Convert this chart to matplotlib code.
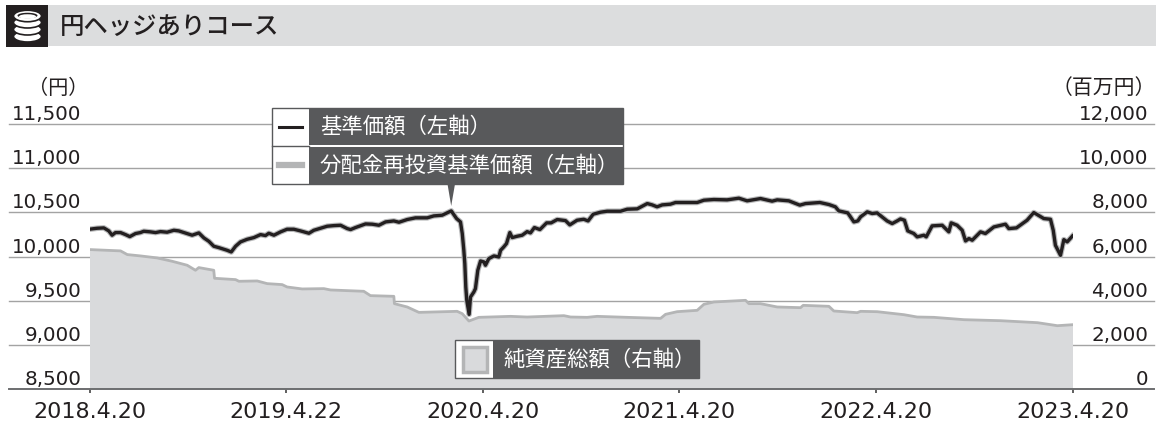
import matplotlib
matplotlib.use("Agg")
import matplotlib.pyplot as plt
from matplotlib.patches import Rectangle, Polygon, Ellipse

CJK = ['Noto Sans CJK JP', 'DejaVu Sans']
plt.rcParams['font.family'] = CJK

title = '円ヘッジありコース'
x_labels = ['2018.4.20', '2019.4.22', '2020.4.20', '2021.4.20', '2022.4.20', '2023.4.20']
x_ticks = [0, 1, 2, 3, 4, 5]
left_ticks = [8500, 9000, 9500, 10000, 10500, 11000, 11500]
right_ticks = [0, 2000, 4000, 6000, 8000, 10000, 12000]

# elapsed years from the first date, and fund price in yen
nav_t = [0.0, .039, .073, .098, .115, .132, .158, .183, .205, .234, .259, .276, .310, .336, .361, .395,
         .429, .454, .480, .522, .556, .582, .607, .632, .658, .700, .721, .743, .768, .802, .836, .870,
         .895, .912, .938, .972, 1.005, 1.039, 1.073, 1.116, 1.141, 1.175, 1.209, 1.243, 1.277, 1.311,
         1.328, 1.353, 1.404, 1.438, 1.472, 1.506, 1.548, 1.574, 1.616, 1.658, 1.718, 1.751, 1.794, 1.840,
         1.867, 1.887, 1.896, 1.904, 1.909, 1.914, 1.919, 1.931, 1.938, 1.955, 1.963, 1.975, 1.989, 2.006,
         2.014, 2.031, 2.057, 2.082, 2.091, 2.107, 2.121, 2.138, 2.150, 2.175, 2.201, 2.226, 2.243, 2.263,
         2.291, 2.325, 2.348, 2.379, 2.421, 2.443, 2.480, 2.514, 2.536, 2.562, 2.599, 2.633, 2.701, 2.735,
         2.786, 2.837, 2.862, 2.887, 2.913, 2.955, 2.981, 3.040, 3.091, 3.125, 3.176, 3.243, 3.303, 3.345,
         3.413, 3.472, 3.498, 3.557, 3.613, 3.642, 3.715, 3.761, 3.794, 3.811, 3.857, 3.888, 3.908, 3.922,
         3.956, 3.981, 4.006, 4.057, 4.083, 4.108, 4.125, 4.145, 4.162, 4.193, 4.210, 4.244, 4.256, 4.286,
         4.337, 4.371, 4.383, 4.413, 4.439, 4.456, 4.473, 4.490, 4.532, 4.557, 4.600, 4.659, 4.676, 4.715,
         4.769, 4.803, 4.854, 4.888, 4.902, 4.913, 4.939, 4.956, 4.973, 5.0]
nav = [10310, 10321, 10325, 10291, 10242, 10272, 10272, 10249, 10226, 10261, 10272, 10287, 10280, 10272, 10283, 10276,
       10298, 10291, 10272, 10242, 10268, 10211, 10173, 10117, 10101, 10071, 10052, 10117, 10166, 10196, 10215, 10249,
       10238, 10264, 10242, 10280, 10310, 10310, 10291, 10264, 10298, 10321, 10344, 10351, 10355, 10317,
       10306, 10329, 10370, 10367, 10355, 10393, 10404, 10389, 10420, 10439, 10439, 10461, 10469, 10518,
       10431, 10393, 10261, 10071, 9920, 9654, 9503, 9344, 9541, 9598, 9636, 9844, 9950, 9939,
       9901, 9976, 10007, 9995, 10071, 10109, 10147, 10272, 10215, 10230, 10242, 10283, 10268, 10329,
       10306, 10382, 10382, 10420, 10408, 10359, 10412, 10423, 10404, 10480, 10503, 10514, 10514, 10537,
       10541, 10601, 10586, 10564, 10586, 10594, 10613, 10613, 10613, 10639, 10647, 10643, 10662, 10632,
       10658, 10628, 10643, 10632, 10583, 10601, 10613, 10590, 10564, 10518, 10495, 10393, 10404, 10450,
       10507, 10488, 10495, 10404, 10374, 10404, 10427, 10412, 10291, 10261, 10223, 10242, 10223, 10348,
       10355, 10280, 10382, 10355, 10298, 10177, 10204, 10185, 10280, 10261, 10336, 10367, 10317, 10325,
       10412, 10499, 10431, 10423, 10298, 10128, 10014, 10192, 10166, 10234]
# no distributions were paid, so the reinvested price follows the fund price
nav_reinvested = list(nav)

# elapsed years and total net assets in million yen
assets_t = [0.0, .158, .192, .259, .344, .420, .497, .539, .556, .632, .636, .743, .760, .853, .904, .980,
            1.005, 1.082, 1.192, 1.226, 1.395, 1.429, 1.548, 1.551, 1.616, 1.675, 1.684, 1.870, 1.896, 1.930,
            1.980, 2.141, 2.226, 2.413, 2.447, 2.531, 2.582, 2.735, 2.905, 2.930, 2.989, 3.091, 3.125, 3.176,
            3.337, 3.354, 3.413, 3.498, 3.617, 3.630, 3.761, 3.786, 3.905, 3.922, 4.006, 4.142, 4.210, 4.295,
            4.448, 4.635, 4.822, 4.923, 5.0]
assets = [6317, 6257, 6090, 6029, 5938, 5787, 5605, 5378, 5499, 5378, 5014, 4954, 4878, 4893, 4772, 4727,
          4620, 4530, 4545, 4484, 4424, 4227, 4196, 3863, 3712, 3469, 3469, 3515, 3408, 3075,
          3242, 3287, 3257, 3318, 3257, 3242, 3287, 3242, 3196, 3378, 3499, 3560, 3833, 3939,
          4014, 3863, 3863, 3712, 3681, 3787, 3742, 3530, 3454, 3515, 3499, 3363, 3257, 3242,
          3136, 3090, 3000, 2863, 2908]

INK = '#231f20'
DARK = '#58595b'
FILL = '#d9dadc'
EDGE = '#b4b5b6'
GRID = '#a3a3a3'

W, H = 1156, 423
fig = plt.figure(figsize=(W / 100, H / 100), dpi=100, facecolor='white')
L, R, T, B = 89.5, 1072.5, 124.3, 388.8
rect = [L / W, 1 - B / H, (R - L) / W, (B - T) / H]

ax2 = fig.add_axes(rect, zorder=1)
ax = fig.add_axes(rect, zorder=2, sharex=ax2)
ax.patch.set_visible(False)

ax2.set_xlim(0, 5)
ax2.set_ylim(0, 12000)
ax.set_ylim(8500, 11500)

over = 81 / (R - L)
for v in left_ticks[1:]:
    ax2.axhline((v - 8500) * 4, xmin=-over, xmax=1 + over, color=GRID, lw=1.0, clip_on=False, zorder=0)

ax2.fill_between(assets_t, assets, 0, color=FILL, lw=0, zorder=2)
ax2.plot(assets_t, assets, color=EDGE, lw=2.0, zorder=3, solid_joinstyle='round')

ax.plot(nav_t, nav_reinvested, color='#b9babb', lw=4.0, zorder=3, solid_joinstyle='round')
ax.plot(nav_t, nav, color=INK, lw=2.4, zorder=4, solid_joinstyle='round')

ax2.axhline(0, xmin=-over, xmax=1 + over, color='#6d6e70', lw=1.4, clip_on=False, zorder=5)

for a in (ax, ax2):
    for s in a.spines.values():
        s.set_visible(False)

ax.set_yticks(left_ticks)
ax.set_yticklabels([f'{v:,}' for v in left_ticks], fontsize=14.3, color=INK, family='DejaVu Sans', va='bottom')
ax.tick_params(axis='y', left=False, right=False, length=0, pad=6)
ax2.yaxis.tick_right()
ax2.set_yticks(right_ticks)
ax2.set_yticklabels([f'{v:,}' for v in right_ticks], fontsize=14.3, color=INK, family='DejaVu Sans', va='bottom', ha='right')
ax2.tick_params(axis='y', left=False, right=False, length=0, pad=54.5)
ax.set_xticks(x_ticks)
ax2.set_xticks(x_ticks)
ax.tick_params(axis='x', labelbottom=False, bottom=False)
ax2.set_xticklabels(x_labels, fontsize=16, color=INK, family='DejaVu Sans')
ax2.tick_params(axis='x', length=3, width=1.2, color='#444444', pad=6.8)

ov = fig.add_axes([0, 0, 1, 1], zorder=5)
ov.set_xlim(0, W)
ov.set_ylim(H, 0)
ov.axis('off')

# header
ov.add_patch(Rectangle((48, 5), W - 48, 41, color='#dcddde', lw=0))
ov.add_patch(Rectangle((6, 5), 42, 42, color=INK, lw=0))
for cy in (36.5, 29.5, 22.5):
    ov.add_patch(Ellipse((27.5, cy), 28, 11, fc='white', ec=INK, lw=1.2))
ov.add_patch(Ellipse((27.5, 16), 28, 11.5, fc='white', ec=INK, lw=1.2))
ov.add_patch(Ellipse((27.5, 15.5), 20, 5.5, fc=INK, lw=0))
ov.add_patch(Ellipse((27.5, 16.5), 17, 4.5, fc='white', lw=0))
ov.text(60, 26.5, title, fontsize=17.6, color=INK, va='center', ha='left', fontweight='medium')

# units
ov.text(58, 88, '（円）', fontsize=14.5, color=INK, ha='center', va='center')
ov.text(1156, 88, '（百万円）', fontsize=15, color=INK, ha='right', va='center', clip_on=False)

# price legend
ov.add_patch(Rectangle((272, 108), 351, 76.5, fc='white', ec=DARK, lw=1))
ov.add_patch(Rectangle((309, 108), 314, 37.5, fc=DARK, lw=0))
ov.add_patch(Rectangle((309, 146.7), 314, 37.8, fc=DARK, lw=0))
ov.plot([272, 309], [146, 146], color=DARK, lw=1)
ov.plot([279, 302], [127, 127], color=INK, lw=2.2)
ov.plot([279, 302], [165, 165], color=EDGE, lw=4.5)
ov.add_patch(Polygon([[447.5, 184], [455, 184], [451.2, 206]], fc=DARK, lw=0))
ov.text(320, 127, '基準価額（左軸）', fontsize=15.4, color='white', va='center', ha='left')
ov.text(320, 165.5, '分配金再投資基準価額（左軸）', fontsize=15.4, color='white', va='center', ha='left')

# assets legend
ov.add_patch(Rectangle((455, 340), 244, 38.5, fc='white', ec=DARK, lw=1))
ov.add_patch(Rectangle((493, 340), 206, 38.5, fc=DARK, lw=0))
ov.add_patch(Rectangle((463, 347), 24, 25, fc=FILL, ec=EDGE, lw=2.5))
ov.text(503, 359.5, '純資産総額（右軸）', fontsize=15.4, color='white', va='center', ha='left')

fig.savefig('out.png', dpi=100, facecolor='white')
